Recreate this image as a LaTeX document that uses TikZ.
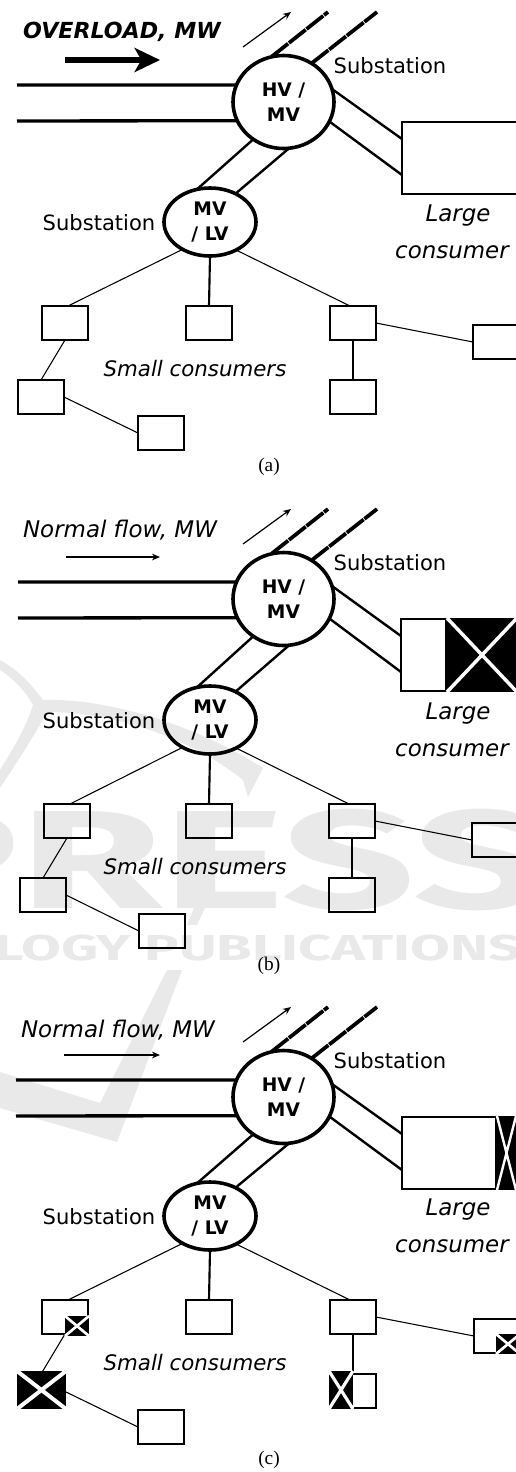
\documentclass[tikz,border=0pt]{standalone}
\usepackage{fontspec}
\setmainfont{DejaVu Sans}
\newfontfamily\serifcap{Liberation Serif}
\newfontfamily\wmfont{Fira Sans}
\usetikzlibrary{arrows.meta,shapes.geometric,fit}
\definecolor{wm}{HTML}{E9E9E9}
\newcommand{\hubline}[1]{\raisebox{-2.6pt}{#1}}
\tikzset{
  hub/.style={draw,ellipse,line width=2.7pt,inner sep=0pt,outer sep=0pt,align=center,
    font=\fontsize{14}{18.4}\selectfont\bfseries},
  load/.style={draw,rectangle,line width=1.6pt,inner sep=0pt,outer sep=0pt,minimum width=34.5pt,minimum height=25.5pt},
  bigload/.style={draw,rectangle,line width=1.6pt,inner sep=0pt,outer sep=0pt,minimum height=54pt},
  feeder/.style={line width=2.5pt},
  mvline/.style={line width=1.8pt},
  stem/.style={line width=1.6pt},
  thin line/.style={line width=.8pt},
  hvout/.style={line width=2.8pt,dash pattern=on 16pt off .8pt},
  flow/.style={line width=.9pt,-{Stealth[length=6pt,width=5pt]}},
  lab/.style={font=\fontsize{15.8}{19}\selectfont,inner sep=0pt},
  ital/.style={font=\fontsize{16}{19}\selectfont\itshape,inner sep=0pt},
  italbig/.style={font=\fontsize{17.2}{19}\selectfont\itshape,inner sep=0pt},
  figcap/.style={font=\fontsize{14.5}{17}\selectfont\serifcap,inner sep=0pt},
  outage/.style={fill=black,inner sep=0pt,outer sep=0pt},
}
\newcommand{\xoutbox}[6]{%
  \node[outage,fit={(#2,#3)(#4,#5)}] (#1) {};
  \draw[white,line width=#6] (#1.north west) -- (#1.south east) (#1.south west) -- (#1.north east);
}
\newcommand{\panelbody}{%
  \node[hub,minimum width=75.75pt,minimum height=69.75pt] (hv) at (283.5,102+\uy) {\hubline{HV /}\\\hubline{MV}};
  \node[hub,minimum width=69pt,minimum height=51pt] (mv) at (210,222+\ly) {\hubline{MV}\\\hubline{/ LV}};
  \coordinate (w1) at (\ux,85+\uy);
  \coordinate (w2) at (\ux,121+\uy);
  \coordinate (n1) at (328,12+\uy);
  \coordinate (n2) at (377,12+\uy);
  \coordinate (f1) at (243,47+\uy);
  \coordinate (f2) at (291,12+\uy);
  \draw[feeder] (w1) -- (hv.160.1);
  \draw[feeder] (w2) -- (hv.202.4);
  \draw[hvout] (hv.105.7) -- (n1);
  \draw[hvout] (hv.54.5) -- (n2);
  \draw[flow] (f1) -- (f2);
  \draw[mvline] (hv.231.8) -- (mv.112.6);
  \draw[mvline] (hv.277.6) -- (mv.48.8);
  \node[bigload,minimum width={(\lgr-\lgl-2)*0.75pt}] (large) at ({(\lgl+\lgr)/2},158+\uy) {};
  \draw[mvline] (hv.15.8) -- ([yshift=14.25pt]large.west);
  \draw[mvline] (hv.-23.4) -- ([yshift=-12.75pt]large.west);
  \node[load] (A) at (\ax,323+\ly) {};
  \node[load] (B) at (209,323+\ly) {};
  \node[load] (C) at (\cx,323+\ly) {};
  \node[load] (D) at (\dx,342+\ly) {};
  \node[load] (E) at (\ex,397+\ly) {};
  \node[load] (F) at (\fx,433+\ly) {};
  \node[load] (G) at (\cx,397+\ly) {};
  \draw[thin line] (mv.225) -- (A.80);
  \draw[stem] (mv.south) -- (B.north);
  \draw[thin line] (mv.313) -- (C.100);
  \draw[thin line] (A.south) -- (E.north);
  \draw[thin line] (E.east) -- (F.west);
  \draw[stem] (C.south) -- (G.north);
  \draw[thin line] (C.east) -- (D.west);
  \node[lab] (sub1) at (390,66+\uy) {Substation};
  \node[lab] (sub2) at (99,223+\ly) {Substation};
  \node[italbig] (lg1) at (458,216+\ly) {Large};
  \node[italbig] (lg2) at (452,252+\ly) {consumer};
  \node[ital] (small) at (195,369+\ly) {Small consumers};
}
\begin{document}
\begin{tikzpicture}[x=.75pt,y=-.75pt]
\useasboundingbox (0,0) rectangle (516,1472);
\clip (0,0) rectangle (516,1472);
% watermark
\fill[wm] (0,660) .. controls (15,668) and (30,682) .. (43,700)
  .. controls (90,698) and (180,715) .. (263,768) -- (248,797) -- (243,780)
  .. controls (180,730) and (100,712) .. (47,712) .. controls (35,735) and (15,765) .. (0,788)
  -- (0,770) .. controls (12,750) and (25,730) .. (33,705) .. controls (25,690) and (12,678) .. (0,670) -- cycle;
\fill[wm] (212,893) -- (197,925) -- (187,925) -- (200,893) -- cycle;
\fill[wm] (182,970) -- (117,1142) -- (0,1108) -- (0,1072) -- (100,1103) -- (167,970) -- cycle;
\node[wm,font=\fontsize{105}{105}\selectfont\wmfont\bfseries,inner sep=0pt,xscale=1.66] (press) at (213,860) {PRESS};
\node[wm,font=\fontsize{27}{27}\selectfont\wmfont\bfseries,inner sep=0pt,xscale=1.6] (pubs) at (258,948) {LOGY PUBLICATIONS};
% panel a
\begin{scope}[name prefix=a-]
\def\uy{0}\def\ly{0}\def\ux{17}\def\ax{65}\def\cx{353}\def\dx{496}\def\ex{41}\def\fx{161}\def\lgl{401}\def\lgr{530}
\panelbody
\node[font=\fontsize{16.6}{19}\selectfont\bfseries\itshape,inner sep=0pt] (title) at (122,32) {OVERLOAD, MW};
\coordinate (t1) at (65,60);
\coordinate (t2) at (160,60);
\draw[line width=4.5pt,-{Stealth[length=19pt,width=18pt,inset=5pt]}] (t1) -- (t2);
\node[figcap] (label) at (269,467) {(a)};
\end{scope}
% panel b
\begin{scope}[name prefix=b-]
\def\uy{497}\def\ly{498}\def\ux{18}\def\ax{67}\def\cx{352}\def\dx{495}\def\ex{43}\def\fx{162}\def\lgl{400}\def\lgr{447}
\panelbody
\xoutbox{out}{447}{618}{517}{692}{2.6pt}
\node[italbig] (title) at (120,530) {Normal flow, MW};
\coordinate (t1) at (66,557);
\coordinate (t2) at (160,557);
\draw[flow] (t1) -- (t2);
\node[figcap] (label) at (269,966) {(b)};
\end{scope}
% panel c
\begin{scope}[name prefix=c-]
\def\uy{995}\def\ly{994}\def\ux{16}\def\ax{65}\def\cx{353}\def\dx{497}\def\ex{41}\def\fx{161}\def\lgl{401}\def\lgr{497}
\panelbody
\xoutbox{out}{497}{1116}{516}{1190}{1.8pt}
\xoutbox{outA}{65}{1316}{89}{1336}{2pt}
\xoutbox{outD}{496}{1334}{520}{1354}{2pt}
\xoutbox{outE}{17}{1371}{66}{1409}{3pt}
\xoutbox{outG}{329}{1371}{353}{1409}{2.4pt}
\node[italbig] (title) at (118,1030) {Normal flow, MW};
\coordinate (t1) at (64,1055);
\coordinate (t2) at (160,1055);
\draw[flow] (t1) -- (t2);
\node[figcap] (label) at (269,1460) {(c)};
\end{scope}
\end{tikzpicture}
\end{document}
